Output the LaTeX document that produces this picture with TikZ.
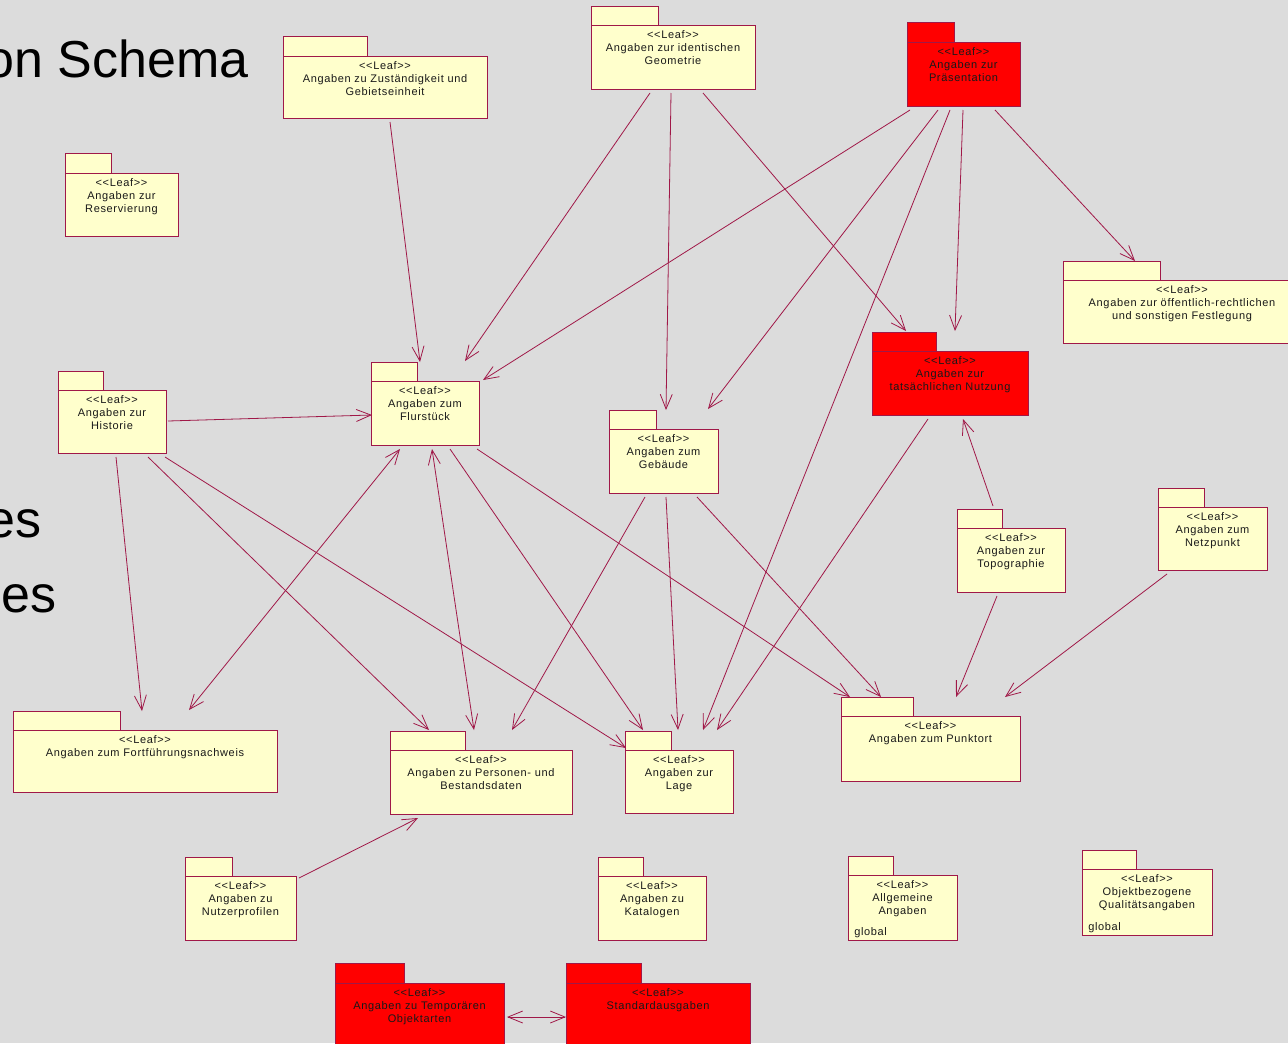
\documentclass[tikz,border=0pt]{standalone}
\usepackage{fontspec}
\setmainfont{Liberation Sans}
\newfontfamily\umlfont[LetterSpace=6,Ligatures=TeXOff]{Liberation Sans}
\usetikzlibrary{arrows.meta}
\definecolor{bg}{RGB}{220,220,220}
\definecolor{pkgyellow}{RGB}{255,255,204}
\definecolor{pkgred}{RGB}{255,0,0}
\definecolor{umlline}{RGB}{160,24,72}

% package: name, x1, y1, x2, y2 (body), tab right, tab top, fill, text
\newcommand\umlpkg[9]{%
  \filldraw[pkgline, fill=#8] (#2,#7) rectangle (#6,#3);
  \node[pkgbody, fill=#8, anchor=north west,
        minimum width={(#4-#2)*0.75pt}, minimum height={(#5-#3)*0.75pt}] (#1) at (#2,#3) {};
  \node[pkgtext, anchor=north] (#1-t) at ([yshift=-3.6pt]#1.north) {#9};
}
\newcommand\leaf{<<Leaf>>}

\begin{document}
\begin{tikzpicture}[x=0.75pt, y=-0.75pt,
  >={Straight Barb[length=11pt,width=9pt]},
  pkgline/.style={draw=umlline, line width=0.75pt},
  pkgbody/.style={pkgline, inner sep=0pt, outer sep=0pt},
  pkgtext/.style={font=\umlfont\fontsize{8.25}{10.1}\selectfont, align=center,
                  inner sep=0pt, text=black!90},
  dep/.style={draw=umlline, line width=0.6pt},
  heading/.style={font=\fontsize{39}{47}\selectfont, inner sep=0pt, text=black}]

\useasboundingbox (0,0) rectangle (1288,1043);
\fill[bg] (0,0) rectangle (1288,1043);

% slide headings, partly hidden
\node[heading, anchor=base east] (h1) at (249,77) {on Schema};
\node[heading, anchor=base east] (h2) at (42,537) {es};
\node[heading, anchor=base east] (h3) at (57,612) {es};

% packages
\umlpkg{zust}{283}{56}{487}{118}{367}{36}{pkgyellow}{\leaf\\Angaben zu Zuständigkeit und\\Gebietseinheit}
\umlpkg{geo}{591}{25}{755}{89}{658}{6}{pkgyellow}{\leaf\\Angaben zur identischen\\Geometrie}
\umlpkg{pres}{907}{42}{1020}{106}{954}{22}{pkgred}{\leaf\\Angaben zur\\Präsentation}
\umlpkg{resv}{65}{173}{178}{236}{111}{153}{pkgyellow}{\leaf\\Angaben zur\\Reservierung}
\umlpkg{oeff}{1063}{280}{1301}{343}{1160}{261}{pkgyellow}{\leaf\\Angaben zur öffentlich-rechtlichen\\und sonstigen Festlegung}
\umlpkg{nutz}{872}{351}{1028}{415}{936}{332}{pkgred}{\leaf\\Angaben zur\\tatsächlichen Nutzung}
\umlpkg{flur}{371}{381}{479}{445}{417}{362}{pkgyellow}{\leaf\\Angaben zum\\Flurstück}
\umlpkg{hist}{58}{390}{166}{453}{103}{371}{pkgyellow}{\leaf\\Angaben zur\\Historie}
\umlpkg{geb}{609}{429}{718}{493}{656}{410}{pkgyellow}{\leaf\\Angaben zum\\Gebäude}
\umlpkg{topo}{957}{528}{1065}{592}{1002}{509}{pkgyellow}{\leaf\\Angaben zur\\Topographie}
\umlpkg{netz}{1158}{507}{1267}{570}{1204}{488}{pkgyellow}{\leaf\\Angaben zum\\Netzpunkt}
\umlpkg{fort}{13}{730}{277}{792}{120}{711}{pkgyellow}{\leaf\\Angaben zum Fortführungsnachweis}
\umlpkg{pers}{390}{750}{572}{814}{465}{731}{pkgyellow}{\leaf\\Angaben zu Personen- und\\Bestandsdaten}
\umlpkg{lage}{625}{750}{733}{813}{671}{731}{pkgyellow}{\leaf\\Angaben zur\\Lage}
\umlpkg{punkt}{841}{716}{1020}{781}{913}{697}{pkgyellow}{\leaf\\Angaben zum Punktort}
\umlpkg{nutzp}{185}{876}{296}{940}{232}{857}{pkgyellow}{\leaf\\Angaben zu\\Nutzerprofilen}
\umlpkg{kat}{598}{876}{706}{940}{643}{857}{pkgyellow}{\leaf\\Angaben zu\\Katalogen}
\umlpkg{allg}{848}{875}{957}{940}{893}{856}{pkgyellow}{\leaf\\Allgemeine\\Angaben}
\umlpkg{objq}{1082}{869}{1212}{935}{1136}{850}{pkgyellow}{\leaf\\Objektbezogene\\Qualitätsangaben}
\umlpkg{temp}{335}{983}{504}{1060}{404}{963}{pkgred}{\leaf\\Angaben zu Temporären\\Objektarten}
\umlpkg{std}{566}{983}{750}{1060}{641}{963}{pkgred}{\leaf\\Standardausgaben}

\node[pkgtext, anchor=base west] (allg-g) at ([shift={(6,-5)}]allg.south west) {global};
\node[pkgtext, anchor=base west] (objq-g) at ([shift={(6,-5)}]objq.south west) {global};

% dependencies
\draw[dep, ->] ([shift={(107,66)}]zust.north west) -- ([shift={(49,-19)}]flur.north west);
\draw[dep, ->] ([shift={(59,68)}]geo.north west) -- ([shift={(94,-20)}]flur.north west);
\draw[dep, ->] ([shift={(80,68)}]geo.north west) -- ([shift={(57,-19)}]geb.north west);
\draw[dep, ->] ([shift={(112,68)}]geo.north west) -- ([shift={(34,-20)}]nutz.north west);
\draw[dep, ->] ([shift={(3,68)}]pres.north west) -- ([shift={(112,-1)}]flur.north west);
\draw[dep, ->] ([shift={(31,68)}]pres.north west) -- ([shift={(99,-20)}]geb.north west);
\draw[dep, ->] ([shift={(43,68)}]pres.north west) -- ([shift={(78,-20)}]lage.north west);
\draw[dep, ->] ([shift={(56,68)}]pres.north west) -- ([shift={(83,-20)}]nutz.north west);
\draw[dep, ->] ([shift={(88,68)}]pres.north west) -- ([shift={(72,-19)}]oeff.north west);
\draw[dep, ->] ([shift={(110,31)}]hist.north west) -- ([shift={(1,34)}]flur.north west);
\draw[dep, ->] ([shift={(58,67)}]hist.north west) -- ([shift={(129,-19)}]fort.north west);
\draw[dep, ->] ([shift={(90,67)}]hist.north west) -- ([shift={(39,-20)}]pers.north west);
\draw[dep, ->] ([shift={(107,67)}]hist.north west) -- ([shift={(1,-2)}]lage.north west);
\draw[dep, <->] ([shift={(29,68)}]flur.north west) -- ([shift={(176,-20)}]fort.north west);
\draw[dep, <->] ([shift={(61,68)}]flur.north west) -- ([shift={(84,-20)}]pers.north west);
\draw[dep, ->] ([shift={(79,68)}]flur.north west) -- ([shift={(18,-20)}]lage.north west);
\draw[dep, ->] ([shift={(106,68)}]flur.north west) -- ([shift={(9,-19)}]punkt.north west);
\draw[dep, ->] ([shift={(36,68)}]geb.north west) -- ([shift={(122,-20)}]pers.north west);
\draw[dep, ->] ([shift={(57,68)}]geb.north west) -- ([shift={(53,-20)}]lage.north west);
\draw[dep, ->] ([shift={(88,68)}]geb.north west) -- ([shift={(40,-19)}]punkt.north west);
\draw[dep, ->] ([shift={(56,68)}]nutz.north west) -- ([shift={(92,-20)}]lage.north west);
\draw[dep, ->] ([shift={(36,-22)}]topo.north west) -- ([shift={(91,68)}]nutz.north west);
\draw[dep, ->] ([shift={(40,68)}]topo.north west) -- ([shift={(115,-19)}]punkt.north west);
\draw[dep, ->] ([shift={(9,67)}]netz.north west) -- ([shift={(164,-19)}]punkt.north west);
\draw[dep, ->] ([shift={(114,2)}]nutzp.north west) -- ([shift={(28,68)}]pers.north west);
\draw[dep, <->] ([shift={(172,34)}]temp.north west) -- ([shift={(0,34)}]std.north west);

\end{tikzpicture}
\end{document}
